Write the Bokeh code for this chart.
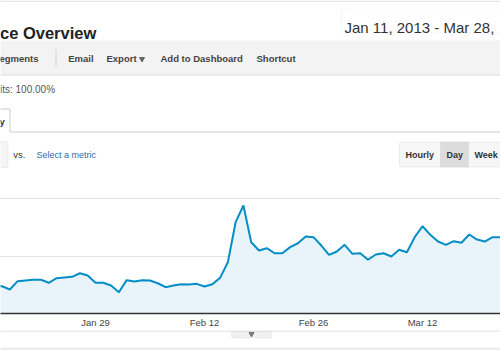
import pandas as pd
from bokeh.plotting import figure
from bokeh.layouts import column
from bokeh.models import Range1d, FixedTicker, DatetimeTickFormatter, Grid, BoxAnnotation, ColumnDataSource
from bokeh.core.properties import value
from bokeh.embed import file_html
from bokeh.resources import INLINE

# ---------------- data ----------------
dates = pd.date_range("2013-01-16", "2013-03-23", freq="D")
visits_jan = [240, 237, 209, 281, 287, 293, 293, 267, 307, 313, 319, 350, 330, 267, 267, 243]
visits_feb = [185, 290, 278, 290, 287, 263, 229, 243, 255, 252, 258, 235, 255, 310, 446, 794,
              939, 620, 548, 568, 524, 524, 577, 611, 670, 664, 591, 510]
visits_mar = [539, 597, 519, 524, 467, 513, 524, 496, 554, 533, 664, 759, 684, 626, 597, 629,
              615, 687, 643, 626, 664, 664, 664]
visits = visits_jan + visits_feb + visits_mar
tick_dates = ["2013-01-29", "2013-02-12", "2013-02-26", "2013-03-12"]
grid_values = [500, 1000]

FONT = value("Liberation Sans")


def box(fig, **kw):
    b = BoxAnnotation(level="underlay", fill_alpha=1, **kw)
    fig.add_layout(b)
    return b


# ---------------- top UI strip ----------------
top = figure(width=500, height=197, x_range=Range1d(0, 500), y_range=Range1d(197, 0),
             x_axis_location=None, y_axis_location=None, toolbar_location=None,
             output_backend="svg", min_border=0, outline_line_color=None, title=None)
top.grid.visible = False

top.quad(left=[0], right=[500], top=[0], bottom=[1.5], fill_color="#e6e6e6", line_color=None)
top.text(x=[-0.5], y=[32.5], text=["ce Overview"], text_font=FONT, text_font_style="bold",
         text_font_size="16.5px", text_color="#222222", text_baseline="alphabetic")

box(top, left=341, right=530, top=7.5, bottom=32.5, fill_color="white",
    line_color="#e2e2e2", line_width=1, border_radius=4)
top.text(x=[344], y=[26.5], text=["Jan 11, 2013 - Mar 28,"], text_font=FONT,
         text_font_size="15px", text_color="#333333", text_baseline="alphabetic")

# toolbar band
top.quad(left=[0], right=[500], top=[40], bottom=[74], fill_color="#f3f3f3", line_color=None)
top.segment(x0=[0], y0=[74.5], x1=[500], y1=[74.5], line_color="#d9d9d9", line_width=1)
top.segment(x0=[55.5], y0=[49], x1=[55.5], y1=[66], line_color="#d0d0d0", line_width=1)
top.text(x=[-1, 67.7, 106, 160, 256], y=[58] * 5,
         text=["egments", "Email", "Export", "Add to Dashboard", "Shortcut"],
         text_font=FONT, text_font_style="bold", text_font_size="9.5px",
         text_color="#444444", text_baseline="middle")
top.scatter(x=[141.5], y=[58.5], marker="inverted_triangle", size=5, color="#666666")

top.text(x=[-0.5], y=[89], text=["its: 100.00%"], text_font=FONT, text_font_size="10px",
         text_color="#555555", text_baseline="middle")

# tab
top.segment(x0=[0, 9.5, 9.5], y0=[108.5, 108.5, 131.5], x1=[9.5, 9.5, 500], y1=[108.5, 131.5, 131.5],
            line_color="#cccccc", line_width=1)
top.text(x=[-1], y=[121], text=["y"], text_font=FONT, text_font_style="bold",
         text_font_size="9.5px", text_color="#333333", text_baseline="middle")

# metric selector row
box(top, left=-5, right=7.5, top=141, bottom=167, fill_color="#f5f5f5",
    line_color="#c8c8c8", border_radius=2)
top.text(x=[12.7], y=[154], text=["vs."], text_font=FONT, text_font_size="9.5px",
         text_color="#333333", text_baseline="middle")
top.text(x=[36], y=[154], text=["Select a metric"], text_font=FONT, text_font_size="9px",
         text_color="#2b6cb0", text_baseline="middle")

box(top, left=399, right=530, top=141.5, bottom=166.5, fill_color="#f6f6f6",
    line_color="#c8c8c8", border_radius=2)
box(top, left=440, right=468, top=141.5, bottom=166.5, fill_color="#dcdcdc",
    line_color="#c8c8c8")
top.text(x=[405, 446, 474], y=[154, 154, 154], text=["Hourly", "Day", "Week"], text_font=FONT,
         text_font_style="bold", text_font_size="9px", text_color="#333333", text_baseline="middle")

# ---------------- chart ----------------
px_per_day = 327 / 42.0
t0 = pd.Timestamp(tick_dates[0])
x_start = t0 - pd.Timedelta(days=95 / px_per_day)
x_end = t0 + pd.Timedelta(days=405 / px_per_day)

src = ColumnDataSource(dict(date=dates, v=visits))
chart = figure(width=500, height=133, x_axis_type="datetime", x_range=Range1d(x_start, x_end),
               y_range=Range1d(0, grid_values[-1] * 116 / 115), y_axis_location=None,
               toolbar_location=None, output_backend="svg", min_border_left=0,
               min_border_right=0, min_border_top=0, min_border_bottom=17,
               outline_line_color=None, title=None)
chart.grid.visible = False
chart.add_layout(Grid(dimension=1, ticker=FixedTicker(ticks=grid_values),
                      grid_line_color="#e2e2e2", grid_line_width=1))
chart.varea(x="date", y1=0, y2="v", source=src, fill_color="#e8f4fa")
chart.line(x="date", y="v", source=src, line_color="#058dc7", line_width=2)

ax = chart.xaxis[0]
ax.ticker = FixedTicker(ticks=[pd.Timestamp(d).value / 1e6 for d in tick_dates])
ax.formatter = DatetimeTickFormatter(days="%b %d", months="%b %d", context=None)
ax.axis_line_color = "#333333"
ax.axis_line_width = 1.5
ax.major_tick_line_color = None
ax.minor_tick_line_color = None
ax.major_tick_out = 0
ax.major_label_standoff = 3
ax.major_label_text_font = "Liberation Sans"
ax.major_label_text_font_size = "9.5px"
ax.major_label_text_color = "#444444"

# ---------------- bottom strip ----------------
bottom = figure(width=500, height=20, x_range=Range1d(0, 500), y_range=Range1d(20, 0),
                x_axis_location=None, y_axis_location=None, toolbar_location=None,
                output_backend="svg", min_border=0, outline_line_color=None, title=None)
bottom.grid.visible = False
box(bottom, left=231, right=271, top=0.5, bottom=7.5, fill_color="#f0f0f0",
    line_color="#cfcfcf", border_radius=2)
bottom.segment(x0=[0], y0=[0.5], x1=[500], y1=[0.5], line_color="#d6d6d6", line_width=1)
bottom.scatter(x=[251], y=[3.5], marker="inverted_triangle", size=5, color="#777777")
bottom.quad(left=[0], right=[500], top=[17], bottom=[20], fill_color="#ececec", line_color=None)

p = column(top, chart, bottom, spacing=0)
open("out.html", "w").write(file_html(p, INLINE))
